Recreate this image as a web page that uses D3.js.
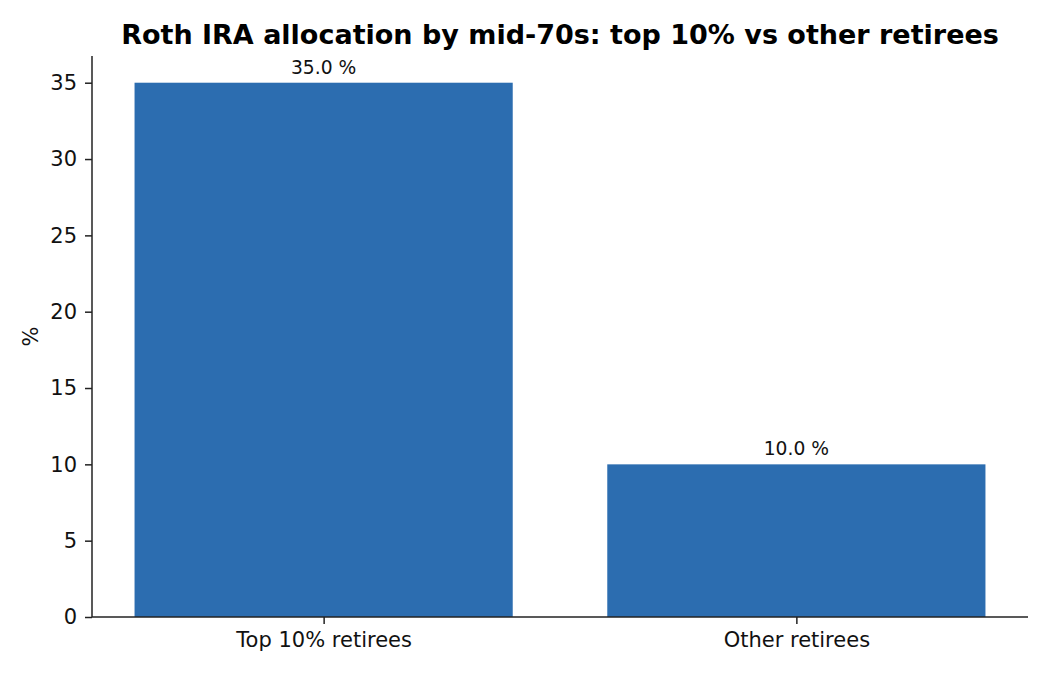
<!DOCTYPE html>
<html><head><meta charset="utf-8">
<script src="https://cdn.jsdelivr.net/npm/d3@7"></script>
<style>body{margin:0;background:#fff}text{font-family:"DejaVu Sans",sans-serif}</style>
</head><body><svg id="c" width="1050" height="675"></svg>
<script>
const categories = ["Top 10% retirees", "Other retirees"];
const values = [35.0, 10.0];
const yTicks = [0, 5, 10, 15, 20, 25, 30, 35];
const title = "Roth IRA allocation by mid-70s: top 10% vs other retirees";
const yLabel = "%";

const svg = d3.select("#c");
const m = {l: 92, r: 1028, t: 56, b: 617};
const x = d3.scaleLinear().domain([-0.49, 1.49]).range([m.l, m.r]);
const y = d3.scaleLinear().domain([0, 36.75]).range([m.b, m.t]);
const bw = 0.8;
const col = "#2c6db0";

svg.selectAll("rect.bar").data(values).enter().append("rect")
  .attr("x", (d, i) => x(i - bw / 2))
  .attr("width", (d, i) => x(i + bw / 2) - x(i - bw / 2))
  .attr("y", d => y(d))
  .attr("height", d => y(0) - y(d))
  .attr("fill", col);

svg.selectAll("text.lbl").data(values).enter().append("text")
  .attr("x", (d, i) => x(i))
  .attr("y", d => y(d) - 9)
  .attr("text-anchor", "middle")
  .attr("font-size", 18.7)
  .attr("fill", "#111")
  .text(d => d.toFixed(1) + " %");

const yAxis = d3.axisLeft(y).tickValues(yTicks).tickSize(7).tickPadding(8);
const gy = svg.append("g").attr("transform", `translate(${m.l},0)`).call(yAxis);
gy.select(".domain").attr("d", `M0,${m.b}V${m.t}`);
const xAxis = d3.axisBottom(x).tickValues([0, 1]).tickFormat(i => categories[i]).tickSize(7).tickPadding(8);
const gx = svg.append("g").attr("transform", `translate(0,${m.b})`).call(xAxis);
gx.select(".domain").attr("d", `M${m.l},0H${m.r}`);
[gx, gy].forEach(g => {
  g.selectAll("path,line").attr("stroke", "#222").attr("stroke-width", 1.5);
  g.selectAll("text").attr("font-size", 21).attr("fill", "#111").attr("font-family", "DejaVu Sans");
});

svg.append("text").attr("x", 560).attr("y", 44)
  .attr("text-anchor", "middle").attr("font-size", 27).attr("font-weight", "bold")
  .attr("fill", "#000").text(title);

svg.append("text").attr("transform", `translate(38,${(m.t + m.b) / 2}) rotate(-90)`)
  .attr("text-anchor", "middle").attr("font-size", 21).attr("fill", "#111").text(yLabel);
</script></body></html>
